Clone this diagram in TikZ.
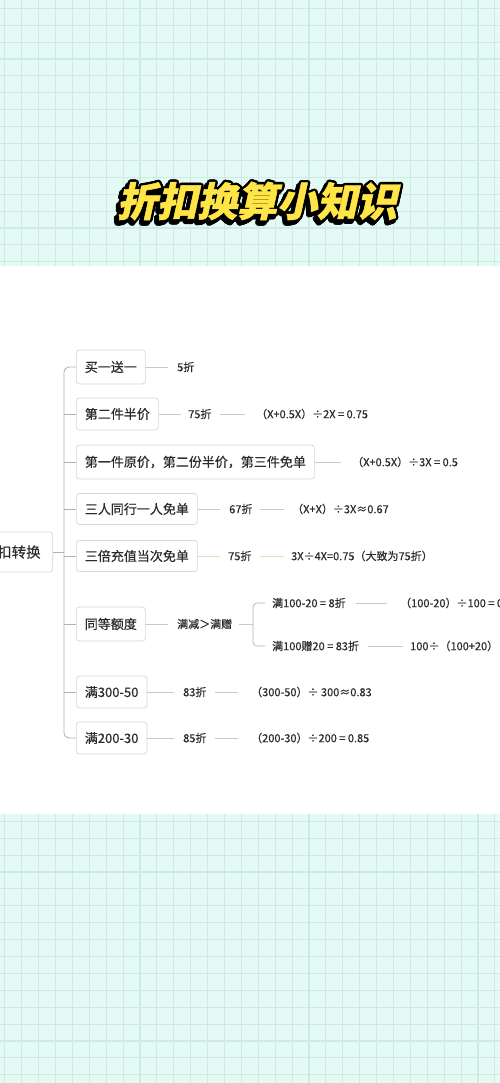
\documentclass[tikz,border=0pt]{standalone}
\usepackage{fontspec}
\usetikzlibrary{calc}
\setmainfont{Noto Sans CJK SC}[FakeBold=0.35]
\newfontfamily\titlefont{Noto Sans CJK SC}[FakeSlant=0.22,FakeBold=1.2]
\definecolor{bg}{RGB}{227,251,244}
\definecolor{gridc}{RGB}{207,234,226}
\definecolor{boxc}{RGB}{214,214,214}
\definecolor{linec}{RGB}{200,200,200}
\definecolor{linec2}{RGB}{222,222,186}
\definecolor{trunkc}{RGB}{178,178,178}
\definecolor{txt}{RGB}{43,43,43}
\definecolor{ttlyellow}{RGB}{255,230,70}
\begin{document}
\begin{tikzpicture}[x=1pt,y=-1pt,
  box/.style={draw=boxc, fill=white, rounded corners=3pt, line width=0.7pt,
    inner xsep=8.5pt, inner ysep=0pt, minimum height=32pt, text=txt,
    font=\fontsize{13}{15}\selectfont, anchor=west},
  lbl/.style={inner sep=0pt, text=txt, font=\fontsize{11}{13}\selectfont, anchor=west},
  link/.style={draw=linec, line width=0.7pt},
  trunk/.style={draw=trunkc, line width=0.9pt, rounded corners=5pt},
  ttl/.style={inner sep=0pt, font=\titlefont\bfseries\fontsize{40}{44}\selectfont}]
\useasboundingbox (0,0) rectangle (500,1083);
\clip (0,0) rectangle (500,1083);
% background
\fill[bg] (0,0) rectangle (500,1083);
\foreach \i in {0,...,29} {
  \draw[gridc, line width=1.1pt] (4.8+16.9*\i,0) -- (4.8+16.9*\i,1083);
}
\foreach \k in {0,...,15} {
  \draw[gridc, line width=1.1pt] (0,8.3+16.9*\k) -- (500,8.3+16.9*\k);
  \draw[gridc, line width=1.1pt] (0,821.3+16.9*\k) -- (500,821.3+16.9*\k);
}
\fill[white] (0,266) rectangle (500,814);
% title
\coordinate (tc) at (257,201);
\coordinate (tcs) at (254.5,204);
\foreach \a [count=\i] in {0,30,...,330} {
  \node[ttl, text=black] (tsh\i) at ([shift={(\a:2.4)}]tcs) {折扣换算小知识};
}
\foreach \a [count=\i] in {0,30,...,330} {
  \node[ttl, text=black] (tol\i) at ([shift={(\a:2.4)}]tc) {折扣换算小知识};
}
\node[ttl, text=ttlyellow] (title) at (tc) {折扣换算小知识};
% root and trunk
\node[box, anchor=east, minimum height=40pt, inner xsep=12pt, font=\fontsize{14.5}{16}\selectfont] (root) at (53,552) {折扣转换};
\coordinate (tx) at (64,0);
% branch boxes
\node[box, minimum height=34pt] (b1) at (76,367) {买一送一};
\node[box] (b2) at (76,414) {第二件半价};
\node[box, minimum height=34pt] (b3) at (76,462) {第一件原价，第二份半价，第三件免单};
\node[box, minimum height=31pt] (b4) at (76,509) {三人同行一人免单};
\node[box, minimum height=31pt] (b5) at (76,556) {三倍充值当次免单};
\node[box, minimum height=34pt] (b6) at (76,624) {同等额度};
\node[box] (b7) at (76,692) {满300-50};
\node[box] (b8) at (76,738) {满200-30};
\draw[trunk] (b1.west) -- (b1.west -| tx) -- (b8.west -| tx) -- (b8.west);
\foreach \n in {b2,b3,b4,b5,b6,b7} { \draw[trunk] (\n.west) -- (\n.west -| tx); }
\draw[trunk] (root.east) -- (root.east -| tx);
% labels
\node[lbl] (t1) at (177,367) {5折};
\node[lbl] (t2a) at (188,414) {75折};
\node[lbl] (t2b) at (256,414) {（X+0.5X）÷2X = 0.75};
\node[lbl] (t3) at (352,462) {（X+0.5X）÷3X = 0.5};
\node[lbl] (t4a) at (229,509) {67折};
\node[lbl] (t4b) at (292,509) {（X+X）÷3X≈0.67};
\node[lbl] (t5a) at (228,556) {75折};
\node[lbl] (t5b) at (291,556) {3X÷4X=0.75（大致为75折）};
\node[lbl] (t6) at (177,624) {满减＞满赠};
\node[lbl] (s1) at (272,603) {满100-20 = 8折};
\node[lbl] (s1b) at (400,603) {（100-20）÷100 = 0.8};
\node[lbl] (s2) at (272,646) {满100赠20 = 83折};
\node[lbl] (s2b) at (410,646) {100÷（100+20）};
\node[lbl] (t7a) at (183,692) {83折};
\node[lbl] (t7b) at (251,692) {（300-50）÷ 300≈0.83};
\node[lbl] (t8a) at (183,738) {85折};
\node[lbl] (t8b) at (251,738) {（200-30）÷200 = 0.85};
% connectors
\draw[link, shorten >=9pt] (b1.east) -- (t1.west);
\draw[link, shorten >=7pt] (b2.east) -- (t2a.west);
\draw[link, shorten <=8pt, shorten >=11pt] (t2a.east) -- (t2b.west);
\draw[link, shorten >=11pt] (b3.east) -- (t3.west);
\draw[link, shorten >=9pt] (b4.east) -- (t4a.west);
\draw[link, shorten <=7pt, shorten >=8pt] (t4a.east) -- (t4b.west);
\draw[link, draw=linec2, shorten >=8pt] (b5.east) -- (t5a.west);
\draw[link, draw=linec2, shorten <=8pt, shorten >=7pt] (t5a.east) -- (t5b.west);
\draw[link, shorten >=9pt] (b6.east) -- (t6.west);
\coordinate (bx) at (253,0);
\draw[link, shorten <=7pt] (t6.east) -- (t6.east -| bx);
\draw[link, draw=trunkc, rounded corners=4pt] ([xshift=-7pt]s1.west) -- (s1.west -| bx) -- (s2.west -| bx) -- ([xshift=-7pt]s2.west);
\draw[link, shorten <=10pt, shorten >=13pt] (s1.east) -- (s1b.west);
\draw[link, shorten <=9pt, shorten >=7pt] (s2.east) -- (s2b.west);
\draw[link, shorten >=9pt] (b7.east) -- (t7a.west);
\draw[link, shorten <=8pt, shorten >=13pt] (t7a.east) -- (t7b.west);
\draw[link, shorten >=9pt] (b8.east) -- (t8a.west);
\draw[link, shorten <=8pt, shorten >=13pt] (t8a.east) -- (t8b.west);
\end{tikzpicture}
\end{document}
